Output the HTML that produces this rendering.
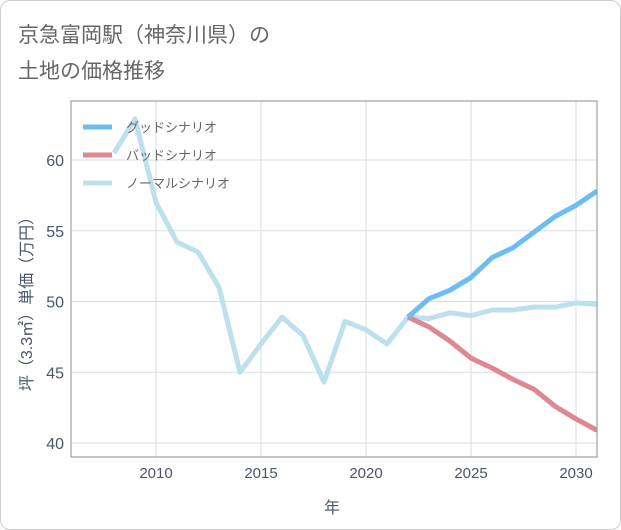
<!DOCTYPE html>
<html><head><meta charset="utf-8"><style>
body{margin:0;background:#fff;font-family:"Liberation Sans","Noto Sans CJK JP",sans-serif;}
#card{position:absolute;left:0;top:0;width:619px;height:528px;border:1px solid #ccc;border-radius:10px;background:#fff;}
</style></head><body>
<div id="card"></div>
<svg id="chart" width="621" height="530" style="position:absolute;left:0;top:0">
<text x="18" y="42" font-size="21" fill="#666">京急富岡駅（神奈川県）の</text>
<text x="18" y="78" font-size="21" fill="#666">土地の価格推移</text>
<g id="grid"></g><g id="lines"></g>
<rect x="71" y="101" width="526" height="356" fill="none" stroke="#8a8f95" stroke-width="1"/>
<g id="legend"></g>
<text x="332" y="513" font-size="16" fill="#4a5566" text-anchor="middle">年</text>
<text transform="translate(32,300) rotate(-90)" font-size="16" fill="#4a5566" text-anchor="middle">坪（3.3㎡）単価（万円）</text>
</svg>
<script>
const normalYears=[2008,2009,2010,2011,2012,2013,2014,2015,2016,2017,2018,2019,2020,2021,2022,2023,2024,2025,2026,2027,2028,2029,2030,2031];
const normalVals=[60.5,62.9,57,54.2,53.5,51,45,47,48.9,47.6,44.3,48.6,48,47,48.9,48.8,49.2,49.0,49.4,49.4,49.6,49.6,49.9,49.8];
const futureYears=[2022,2023,2024,2025,2026,2027,2028,2029,2030,2031];
const goodVals=[48.9,50.2,50.8,51.7,53.1,53.8,54.9,56.0,56.8,57.8];
const badVals=[48.9,48.2,47.2,46.0,45.3,44.5,43.8,42.6,41.7,40.9];
const xTicks=[2010,2015,2020,2025,2030];
const yTicks=[40,45,50,55,60];
const xs=y=>156+(y-2010)*21;
const ys=v=>160-(v-60)*14.15;
const NS="http://www.w3.org/2000/svg";
function mk(t,a,p){const e=document.createElementNS(NS,t);for(const k in a)e.setAttribute(k,a[k]);p.appendChild(e);return e;}
const grid=document.getElementById('grid'),lines=document.getElementById('lines'),leg=document.getElementById('legend');
xTicks.forEach(t=>{
 const l=mk('line',{x1:xs(t),x2:xs(t),y1:101,y2:457,stroke:'#d5dde5'},grid);
 
 
 const tx=mk('text',{x:xs(t),y:478,'font-size':15,fill:'#4a5566','text-anchor':'middle'},grid);tx.textContent=t;
 
 
});
yTicks.forEach(t=>{
 const l=mk('line',{x1:71,x2:597,y1:ys(t),y2:ys(t),stroke:'#d5dde5'},grid);
 
 
 const tx=mk('text',{x:64,y:ys(t)+6,'font-size':16,fill:'#4a5566','text-anchor':'end'},grid);tx.textContent=t;
 
 
});
function series(yrs,vals,color,name){
 const p=mk('polyline',{points:yrs.map((y,i)=>xs(y)+','+ys(vals[i])).join(' '),fill:'none',stroke:color,'stroke-width':5,'stroke-linejoin':'round'},lines);
 
 
}
const clip=mk('clipPath',{id:'pc'},document.getElementById('chart'));mk('rect',{x:71,y:101,width:526,height:356},clip);
lines.setAttribute('clip-path','url(#pc)');
series(normalYears,normalVals,'#bde0ee','normal-scenario-line');
series(futureYears,badVals,'#de8890','bad-scenario-line');
series(futureYears,goodVals,'#6cbdf2','good-scenario-line');
[['グッドシナリオ','#6cbdf2'],['バッドシナリオ','#de8890'],['ノーマルシナリオ','#bde0ee']].forEach((d,i)=>{
 const y=127+i*28;
 const l=mk('line',{x1:83,x2:112,y1:y,y2:y,stroke:d[1],'stroke-width':5},leg);
 
 
 const t=mk('text',{x:126,y:y+5,'font-size':13,fill:'#666'},leg);t.textContent=d[0];
 
 
});
</script>
</body></html>
